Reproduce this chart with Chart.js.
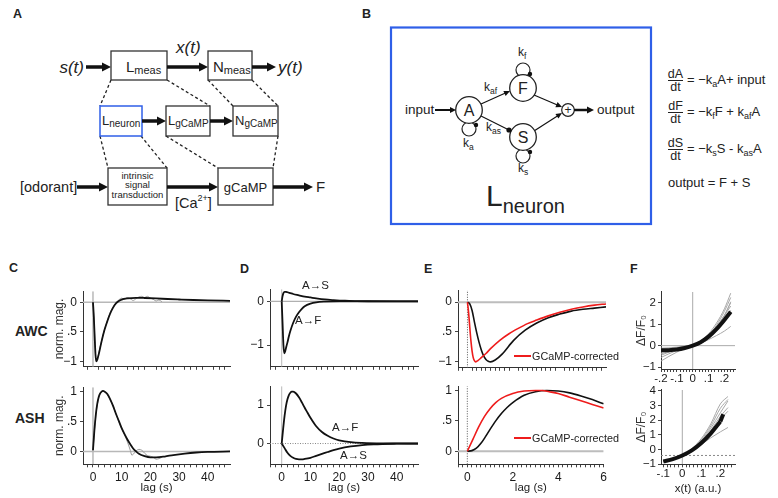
<!DOCTYPE html>
<html><head><meta charset="utf-8">
<script src="https://cdn.jsdelivr.net/npm/chart.js@4.4.1/dist/chart.umd.min.js"></script>
<style>
html,body{margin:0;padding:0;background:#fff;}
#page{position:relative;width:778px;height:498px;overflow:hidden;font-family:'Liberation Sans',Arial,Helvetica,sans-serif;color:#222;}
#page canvas{position:absolute;}
.t{position:absolute;white-space:nowrap;line-height:1;}
</style></head>
<body><div id="page">
<svg id="diag" width="778" height="498" style="position:absolute;left:0;top:0"></svg>
</div>
<script>
// ---------------- DATA ----------------
// Panel C: measured linear filters (lag in s, normalized magnitude)
const cAwcFitLag = [0, 0.3, 0.6, 0.9, 1.15, 1.5, 2, 2.5, 3, 4, 5, 6, 7, 8, 9, 10, 12, 15, 18, 22, 26, 30, 35, 40, 48];
const cAwcFitMag = [0, -0.25, -0.6, -0.9, -1.0, -0.97, -0.88, -0.77, -0.66, -0.47, -0.32, -0.19, -0.09, -0.02, 0.02, 0.045, 0.065, 0.075, 0.072, 0.065, 0.055, 0.047, 0.038, 0.032, 0.025];
const cAwcDataLag = [0, 0.5, 1, 1.5, 2, 3, 4, 5, 6, 7, 8, 9, 10, 11, 12, 13, 14, 15, 16, 17, 18, 19, 20, 21, 22, 23, 24];
const cAwcDataMag = [0, -0.45, -0.97, -0.95, -0.86, -0.65, -0.46, -0.31, -0.17, -0.08, -0.01, 0.04, 0.07, 0.05, 0.08, 0.06, 0.03, 0.06, 0.09, 0.1, 0.08, 0.1, 0.07, 0.05, 0.02, 0.04, 0.01];
const cAshFitLag = [0, 0.5, 1, 1.5, 2, 2.5, 3, 3.5, 4, 5, 6, 7, 8, 9, 10, 11, 12, 13, 14, 15, 16, 18, 20, 22, 25, 28, 32, 36, 40, 48];
const cAshFitMag = [0.02, 0.36, 0.62, 0.8, 0.91, 0.97, 1.0, 1.01, 1.0, 0.96, 0.87, 0.76, 0.63, 0.51, 0.39, 0.29, 0.2, 0.12, 0.05, 0.0, -0.04, -0.08, -0.1, -0.1, -0.085, -0.06, -0.035, -0.018, -0.008, 0];
const cAshDataLag = [0, 1, 2, 3, 4, 5, 6, 7, 8, 9, 10, 11, 12, 13, 13.5, 14, 15, 16, 17, 18, 19, 20, 21, 22, 23, 24];
const cAshDataMag = [0.02, 0.6, 0.9, 1.0, 1.0, 0.95, 0.87, 0.76, 0.63, 0.5, 0.38, 0.28, 0.16, 0.02, -0.06, -0.05, 0.01, 0.035, 0.02, -0.03, -0.07, -0.08, -0.1, -0.13, -0.12, -0.1];
// Panel D: model components
const dAwcAFLag = [0, 0.3, 0.6, 0.9, 1.2, 1.6, 2, 2.5, 3, 4, 5, 6, 7, 8, 10, 12, 15, 20, 30, 48];
const dAwcAFVal = [0, -0.5, -1.0, -1.19, -1.15, -1.04, -0.94, -0.8, -0.68, -0.49, -0.35, -0.25, -0.17, -0.11, -0.05, -0.02, -0.005, 0, 0, 0];
const dAwcASLag = [0, 0.3, 0.6, 1, 1.5, 2, 3, 4, 6, 8, 10, 12, 15, 18, 22, 26, 30, 40, 48];
const dAwcASVal = [0, 0.12, 0.19, 0.22, 0.22, 0.21, 0.19, 0.17, 0.14, 0.11, 0.09, 0.07, 0.045, 0.03, 0.015, 0.008, 0.004, 0, 0];
const dAshAFLag = [0, 0.5, 1, 1.5, 2, 2.5, 3, 3.5, 4, 5, 6, 7, 8, 9, 10, 12, 14, 16, 18, 20, 24, 28, 35, 48];
const dAshAFVal = [0, 0.38, 0.72, 0.98, 1.15, 1.26, 1.32, 1.35, 1.35, 1.3, 1.2, 1.07, 0.93, 0.8, 0.67, 0.45, 0.3, 0.2, 0.13, 0.085, 0.035, 0.015, 0.003, 0];
const dAshASLag = [0, 1, 2, 3, 4, 5, 6, 7, 8, 10, 12, 14, 16, 18, 20, 24, 28, 32, 40, 48];
const dAshASVal = [0, -0.12, -0.24, -0.32, -0.37, -0.4, -0.41, -0.41, -0.4, -0.37, -0.32, -0.27, -0.22, -0.17, -0.13, -0.075, -0.04, -0.02, -0.005, 0];
// Panel E: filters vs GCaMP-corrected
const eAwcLag = [0, 0.1, 0.2, 0.3, 0.4, 0.5, 0.6, 0.7, 0.8, 0.9, 1.0, 1.2, 1.5, 2.0, 2.5, 3.0, 3.5, 4.0, 4.5, 5.0, 5.5, 6.0];
const eAwcVal = [0, -0.03, -0.14, -0.33, -0.51, -0.67, -0.8, -0.9, -0.96, -0.99, -1.0, -0.97, -0.87, -0.64, -0.47, -0.35, -0.26, -0.2, -0.15, -0.12, -0.1, -0.08];
const eAwcCorrLag = [0, 0.05, 0.1, 0.15, 0.2, 0.25, 0.3, 0.36, 0.45, 0.6, 0.8, 1.0, 1.4, 1.8, 2.2, 2.6, 3.0, 3.5, 4.0, 4.5, 5.0, 5.5, 6.0];
const eAwcCorrVal = [0, -0.18, -0.42, -0.65, -0.82, -0.93, -0.98, -1.0, -0.98, -0.93, -0.86, -0.78, -0.64, -0.53, -0.44, -0.36, -0.3, -0.23, -0.17, -0.12, -0.08, -0.05, -0.03];
const eAshLag = [0, 0.2, 0.4, 0.6, 0.8, 1.0, 1.25, 1.5, 1.75, 2.0, 2.5, 3.0, 3.5, 4.0, 4.5, 5.0, 5.5, 6.0];
const eAshVal = [0, 0.01, 0.05, 0.13, 0.24, 0.36, 0.5, 0.62, 0.72, 0.8, 0.92, 0.98, 1.0, 0.99, 0.96, 0.91, 0.85, 0.78];
const eAshCorrLag = [0, 0.25, 0.5, 0.75, 1.0, 1.25, 1.5, 2.0, 2.5, 3.0, 3.3, 3.6, 4.0, 4.5, 5.0, 5.5, 6.0];
const eAshCorrVal = [0, 0.2, 0.4, 0.57, 0.7, 0.8, 0.87, 0.95, 0.99, 1.0, 1.0, 0.98, 0.95, 0.89, 0.83, 0.77, 0.71];
// Panel F: static nonlinearities (x(t) vs dF/F0)
const fTopX = [-0.2, -0.15, -0.1, -0.05, 0, 0.05, 0.1, 0.15, 0.2, 0.24];
const fTopMean = [-0.22, -0.21, -0.18, -0.11, 0, 0.16, 0.42, 0.77, 1.2, 1.58];
const fTopTrials = [
  [-0.72, -0.5, -0.3, -0.12, 0, 0.12, 0.28, 0.47, 0.68, 0.9],
  [-0.55, -0.38, -0.22, -0.09, 0, 0.15, 0.42, 0.85, 1.42, 2.0],
  [-0.45, -0.3, -0.18, -0.07, 0, 0.2, 0.55, 1.05, 1.72, 2.45],
  [-0.38, -0.28, -0.17, -0.07, 0, 0.17, 0.48, 0.95, 1.6, 2.25],
  [-0.28, -0.22, -0.14, -0.06, 0, 0.14, 0.38, 0.72, 1.15, 1.55],
  [-0.18, -0.15, -0.1, -0.04, 0, 0.12, 0.34, 0.68, 1.13, 1.65],
  [-0.12, -0.1, -0.07, -0.03, 0, 0.18, 0.5, 0.9, 1.4, 1.85],
  [-0.3, -0.25, -0.16, -0.07, 0, 0.16, 0.45, 0.87, 1.4, 2.05]
];
const fBotX = [-0.1, -0.05, 0, 0.05, 0.1, 0.15, 0.2, 0.24];
const fBotMean = [-0.8, -0.65, -0.4, -0.05, 0.45, 1.1, 1.9, null];
const fBotMeanEndX = [0.2, 0.215];
const fBotMeanEndY = [1.9, 2.4];
const fBotTrials = [
  [-0.78, -0.62, -0.4, 0.05, 0.75, 1.75, 3.1, 3.6],
  [-0.8, -0.63, -0.4, 0.0, 0.6, 1.45, 2.5, 3.3],
  [-0.75, -0.6, -0.4, -0.08, 0.35, 0.8, 1.2, 1.5],
  [-0.82, -0.65, -0.4, 0.02, 0.68, 1.6, 2.8, 3.4],
  [-0.76, -0.62, -0.4, -0.04, 0.5, 1.2, 2.05, 2.6],
  [-0.8, -0.64, -0.4, 0.0, 0.55, 1.3, 2.25, 2.85]
];
const fBotBaseline = -0.4;
// Axis limits and tick labels
const cdXLabVals = [0, 10, 20, 30, 40];
const cdXLabTxt = ['0', '10', '20', '30', '40'];
const eXLabVals = [0, 2, 4, 6];
const eXLabTxt = ['0', '2', '4', '6'];
const fTopXLabVals = [-0.2, -0.1, 0, 0.1, 0.2];
const fTopXLabTxt = ['-.2', '-.1', '0', '.1', '.2'];
const fBotXLabVals = [-0.1, 0, 0.1, 0.2];
const fBotXLabTxt = ['-.1', '0', '.1', '.2'];
const awcYVals = [0, -0.5, -1];
const awcYTxt = ['0', '.5', '\u22121'];
const ashYVals = [1, 0.5, 0];
const ashYTxt = ['1', '.5', '0'];
const dTopYVals = [0, -1];
const dTopYTxt = ['0', '\u22121'];
const dBotYVals = [1, 0];
const dBotYTxt = ['1', '0'];
const fTopYVals = [2, 1, 0, -1];
const fTopYTxt = ['2', '1', '0', '\u22121'];
const fBotYVals = [4, 3, 2, 1, 0, -1];
const fBotYTxt = ['4', '3', '2', '1', '0', '\u22121'];

const FONT = "'Liberation Sans', Arial, Helvetica, sans-serif";
Chart.defaults.font.family = FONT;
Chart.defaults.color = '#222';

// ---------------- DIAGRAMS (A, B) ----------------
const NS = 'http://www.w3.org/2000/svg';
const svg = document.getElementById('diag');
function S(tag, a, txt) {
  const e = document.createElementNS(NS, tag);
  for (const k in a) e.setAttribute(k, a[k]);
  if (txt !== undefined) e.textContent = txt;
  svg.appendChild(e); return e;
}
function T(x, y, parts, extra) {
  const e = S('text', Object.assign({x: x, y: y, 'font-family': FONT, fill: '#222'}, extra || {}));
  parts.forEach(p => {
    const ts = document.createElementNS(NS, 'tspan');
    ts.setAttribute('font-size', p[1]);
    if (p[2]) ts.setAttribute('dy', p[2]);
    if (p[3]) ts.setAttribute('font-style', p[3]);
    ts.textContent = p[0]; e.appendChild(ts);
  });
  return e;
}
function arrow(x1, y1, x2, y2, w, hl, hw) {
  const dx = x2 - x1, dy = y2 - y1, L = Math.hypot(dx, dy), ux = dx / L, uy = dy / L;
  const bx = x2 - ux * hl, by = y2 - uy * hl;
  S('line', {x1: x1, y1: y1, x2: bx + ux, y2: by + uy, stroke: '#111', 'stroke-width': w});
  S('polygon', {points: `${x2},${y2} ${bx - uy * hw},${by + ux * hw} ${bx + uy * hw},${by - ux * hw}`, fill: '#111'});
}
function box(x, y, w, h, col, sw) {
  S('rect', {x: x, y: y, width: w, height: h, fill: '#fff', stroke: col || '#333', 'stroke-width': sw || 1.3});
}
function dash(x1, y1, x2, y2) {
  S('line', {x1: x1, y1: y1, x2: x2, y2: y2, stroke: '#222', 'stroke-width': 1.3, 'stroke-dasharray': '3,2.5'});
}
// Panel A
dash(111, 80, 100, 106); dash(167, 80, 210, 106); dash(208, 80, 233, 106); dash(252, 80, 278, 106);
dash(100, 136, 108, 168); dash(141, 136, 167, 168); dash(166, 136, 218, 168); dash(278, 136, 273, 168);
T(84, 73, [['s(t)', 17, 0, 'italic']], {'text-anchor': 'end'});
arrow(86, 67, 111, 67, 3.5, 9, 4.5);
box(111, 51, 56, 29);
T(126, 72, [['L', 15], ['meas', 11, 2]]);
T(176, 53, [['x(t)', 17, 0, 'italic']]);
arrow(167, 67, 208, 67, 3.5, 9, 4.5);
box(208, 51, 44, 29);
T(213, 72, [['N', 15], ['meas', 11, 2]]);
arrow(252, 67, 276, 67, 3.5, 9, 4.5);
T(278, 73, [['y(t)', 17, 0, 'italic']]);
box(100, 106, 42, 30, '#2f5fe8', 1.5);
T(102, 125, [['L', 13], ['neuron', 10, 2]]);
arrow(142, 121, 166, 121, 3.5, 9, 4.5);
box(166, 106, 44, 30);
T(168, 125, [['L', 13], ['gCaMP', 10, 2]]);
arrow(210, 121, 233, 121, 3.5, 9, 4.5);
box(233, 106, 45, 30);
T(235, 125, [['N', 13], ['gCaMP', 10, 2]]);
T(20, 192, [['[odorant]', 14.5]]);
arrow(77, 187, 108, 187, 3.5, 9, 4.5);
box(108, 168, 59, 37);
T(137.5, 179, [['intrinsic', 9.5]], {'text-anchor': 'middle'});
T(137.5, 188, [['signal', 9.5]], {'text-anchor': 'middle'});
T(137.5, 198, [['transduction', 9.5]], {'text-anchor': 'middle'});
arrow(167, 187, 218, 187, 3.5, 9, 4.5);
T(175, 208, [['[Ca', 14.5], ['2+', 9, -7], [']', 14.5, 7]]);
box(218, 168, 55, 37);
T(245.5, 192, [['gCaMP', 13]], {'text-anchor': 'middle'});
arrow(273, 187, 313, 187, 3.5, 9, 4.5);
T(316, 192, [['F', 15]]);
// Panel B
S('rect', {x: 391, y: 27.5, width: 260, height: 196.5, fill: 'none', stroke: '#2f5fe8', 'stroke-width': 2.2});
T(405, 114, [['input', 13.5]]);
arrow(435, 110, 456, 110, 2, 6, 3);
S('circle', {cx: 523, cy: 70, r: 7, fill: 'none', stroke: '#222', 'stroke-width': 1.2});
S('circle', {cx: 469, cy: 129, r: 7, fill: 'none', stroke: '#222', 'stroke-width': 1.2});
S('circle', {cx: 523, cy: 156, r: 7, fill: 'none', stroke: '#222', 'stroke-width': 1.2});
arrow(481, 104, 510, 91, 1.2, 6, 2.8);
S('line', {x1: 481, y1: 116, x2: 509, y2: 130, stroke: '#111', 'stroke-width': 1.2});
arrow(534, 95, 562, 107, 1.2, 6, 2.8);
arrow(534, 131, 562, 113, 1.2, 6, 2.8);
[[469, 110, 'A'], [523, 88, 'F'], [523, 137, 'S']].forEach(n => {
  S('circle', {cx: n[0], cy: n[1], r: 13.3, fill: '#fff', stroke: '#222', 'stroke-width': 1.3});
  T(n[0], n[1] + 5.5, [[n[2], 16]], {'text-anchor': 'middle'});
});
S('circle', {cx: 509, cy: 130, r: 2.6, fill: '#111'});
S('circle', {cx: 530, cy: 74, r: 2.2, fill: '#111'});
S('circle', {cx: 476, cy: 125, r: 2.2, fill: '#111'});
S('circle', {cx: 530, cy: 152, r: 2.2, fill: '#111'});
S('circle', {cx: 568, cy: 110, r: 6.3, fill: '#fff', stroke: '#222', 'stroke-width': 1.2});
T(568, 114, [['+', 12]], {'text-anchor': 'middle'});
arrow(574, 110, 594, 110, 2.5, 7, 3.5);
T(597, 114, [['output', 13.5]]);
T(518, 56, [['k', 12], ['f', 8.5, 3]]);
T(463, 147, [['k', 12], ['a', 8.5, 3]]);
T(518, 172, [['k', 12], ['s', 8.5, 3]]);
T(484, 91, [['k', 12], ['af', 8.5, 3]]);
T(486, 131, [['k', 12], ['as', 8.5, 3]]);
T(486, 206, [['L', 30], ['neuron', 20, 7]]);
function frac(num, y) {
  T(675.5, y - 2.5, [[num, 12.5]], {'text-anchor': 'middle'});
  S('line', {x1: 668, y1: y, x2: 683, y2: y, stroke: '#222', 'stroke-width': 1});
  T(675.5, y + 10.5, [['dt', 12.5]], {'text-anchor': 'middle'});
}
frac('dA', 80.5);
T(687, 84, [['= \u2212k', 13], ['a', 9, 3], ['A+ input', 13, -3]]);
frac('dF', 112.5);
T(687, 116, [['= \u2212k', 13], ['f', 9, 3], ['F + k', 13, -3], ['af', 9, 3], ['A', 13, -3]]);
frac('dS', 149.5);
T(687, 153, [['= \u2212k', 13], ['s', 9, 3], ['S  - k', 13, -3], ['as', 9, 3], ['A', 13, -3]]);
T(668, 187, [['output = F + S', 13]]);

// ---------------- CHARTS (C-F) ----------------
const page = document.getElementById('page');
function pts(xs, ys) { return xs.map((x, i) => ({x: x, y: ys[i]})); }
function curve(xs, ys, color, width, extra) {
  return Object.assign({data: pts(xs, ys), borderColor: color, borderWidth: width, pointRadius: 0,
    fill: false, cubicInterpolationMode: 'monotone', spanGaps: false}, extra || {});
}
function refLine(xs, ys, color, width, dashArr) {
  return {data: pts(xs, ys), borderColor: color, borderWidth: width, pointRadius: 0, fill: false,
    tension: 0, borderDash: dashArr || [], order: 10};
}
function lab(v, vals, txt) {
  const i = vals.findIndex(t => Math.abs(t - v) < 1e-6);
  return i < 0 ? '' : txt[i];
}
function panel(sp) {
  const padTop = 6, padRight = 4;
  const [l, t, r, b] = sp.area;
  const W = sp.yW + (r - l) + padRight, H = padTop + (b - t) + sp.xH;
  const cv = document.createElement('canvas');
  cv.width = Math.round(W); cv.height = Math.round(H);
  cv.style.left = (l - sp.yW) + 'px'; cv.style.top = (t - padTop) + 'px';
  cv.style.width = Math.round(W) + 'px'; cv.style.height = Math.round(H) + 'px';
  page.appendChild(cv);
  const minor = [];
  const k0 = Math.ceil(sp.xLim[0] / sp.xStep - 1e-9), k1 = Math.floor(sp.xLim[1] / sp.xStep + 1e-9);
  for (let k = k0; k <= k1; k++) minor.push(+(k * sp.xStep).toFixed(6));
  const fs = sp.tickSize || 12;
  new Chart(cv, {
    type: 'line',
    data: {datasets: sp.series},
    options: {
      responsive: false, animation: false, devicePixelRatio: 1,
      layout: {padding: {top: padTop, right: padRight, left: 0, bottom: 0}, autoPadding: false},
      plugins: {legend: {display: false}, tooltip: {enabled: false}},
      scales: {
        x: {
          type: 'linear', min: sp.xLim[0], max: sp.xLim[1], bounds: 'data',
          afterFit: s => { s.height = sp.xH; },
          afterBuildTicks: s => { s.ticks = minor.map(v => ({value: v})); },
          ticks: {autoSkip: false, maxRotation: 0, minRotation: 0, padding: sp.xPad === undefined ? 3 : sp.xPad,
            color: '#1a1a1a', font: {size: fs}, callback: v => lab(v, sp.xLabVals, sp.xLabTxt)},
          grid: {drawOnChartArea: false, drawTicks: true, tickLength: 3, tickColor: '#444', tickWidth: 1},
          border: {display: true, color: '#333', width: 1},
          title: sp.xTitle ? {display: true, text: sp.xTitle, font: {size: 11.5}, color: '#222',
            padding: {top: 0, bottom: sp.xTitlePad}} : {display: false}
        },
        y: {
          type: 'linear', min: sp.yLim[0], max: sp.yLim[1], bounds: 'data',
          afterFit: s => { s.width = sp.yW; },
          afterBuildTicks: s => { s.ticks = sp.yVals.map(v => ({value: v})); },
          ticks: {autoSkip: false, padding: sp.yPad || 3, color: '#1a1a1a', font: {size: fs},
            callback: v => lab(v, sp.yVals, sp.yTxt)},
          grid: {drawOnChartArea: false, drawTicks: true, tickLength: 3, tickColor: '#444', tickWidth: 1},
          border: {display: true, color: '#333', width: 1},
          title: sp.yTitle ? {display: true, text: sp.yTitle, font: {size: 12}, color: '#333',
            padding: {top: sp.yTitlePad || 0, bottom: 0}} : {display: false}
        }
      }
    }
  });
}
function zeroLines(xLim, yLim, hCol, hW, hDash, vCol, vW, vDash) {
  return [refLine(xLim, [0, 0], hCol, hW, hDash), refLine([0, 0], yLim, vCol, vW, vDash)];
}

const cXLim = [-3.48, 47.76];
const cAwcYLim = [-1.09, 0.187];
const cAshYLim = [-0.215, 1.073];
const dXLim = [-4.07, 47.4];
const dAwcYLim = [-1.5, 0.28];
const dAshYLim = [-0.54, 1.49];
const eXLim = [-0.41, 6.0];
const eAwcYLim = [-1.1, 0.2];
const eAshYLim = [-0.215, 1.07];
const fTopXLim = [-0.2, 0.267];
const fTopYLim = [-1.09, 2.51];
const fBotXLim = [-0.112, 0.277];
const fBotYLim = [-1.0, 4.05];

// C
panel({area: [82.7, 287, 230, 369], xLim: cXLim, yLim: cAwcYLim, xStep: 2, xLabVals: cdXLabVals, xLabTxt: [],
  yVals: awcYVals, yTxt: awcYTxt, yW: 31, xH: 8, yTitle: 'norm. mag.',
  series: [curve(cAwcFitLag, cAwcFitMag, '#111', 1.8), curve(cAwcDataLag, cAwcDataMag, '#9a9a9a', 1, {cubicInterpolationMode: 'default', tension: 0.3})]
    .concat(zeroLines(cXLim, cAwcYLim, '#b8b8b8', 1.5, [], '#b8b8b8', 1.5, []))});
panel({area: [82.7, 382.7, 230, 464.3], xLim: cXLim, yLim: cAshYLim, xStep: 2, xLabVals: cdXLabVals, xLabTxt: cdXLabTxt,
  yVals: ashYVals, yTxt: ashYTxt, yW: 31, xH: 33.7, xTitle: 'lag (s)', xTitlePad: 3, yTitle: 'norm. mag.',
  series: [curve(cAshFitLag, cAshFitMag, '#111', 1.8), curve(cAshDataLag, cAshDataMag, '#9a9a9a', 1, {cubicInterpolationMode: 'default', tension: 0.3})]
    .concat(zeroLines(cXLim, cAshYLim, '#b8b8b8', 1.5, [], '#b8b8b8', 1.5, []))});
// D
panel({area: [270, 285, 418, 369.3], xLim: dXLim, yLim: dAwcYLim, xStep: 2, xLabVals: cdXLabVals, xLabTxt: [],
  yVals: dTopYVals, yTxt: dTopYTxt, yW: 24, xH: 8,
  series: [curve(dAwcAFLag, dAwcAFVal, '#111', 1.8), curve(dAwcASLag, dAwcASVal, '#111', 1.8)]
    .concat(zeroLines(dXLim, dAwcYLim, '#b0b0b0', 1.2, [], '#b8b8b8', 1, []))});
panel({area: [270, 381.7, 418, 464.3], xLim: dXLim, yLim: dAshYLim, xStep: 2, xLabVals: cdXLabVals, xLabTxt: cdXLabTxt,
  yVals: dBotYVals, yTxt: dBotYTxt, yW: 24, xH: 33.7, xTitle: 'lag (s)', xTitlePad: 3,
  series: [curve(dAshAFLag, dAshAFVal, '#111', 1.8), curve(dAshASLag, dAshASVal, '#111', 1.8)]
    .concat(zeroLines(dXLim, dAshYLim, '#888', 1, [1, 1.5], '#b8b8b8', 1, []))});
// E
panel({area: [458.3, 286, 606.7, 370], xLim: eXLim, yLim: eAwcYLim, xStep: 0.2, xLabVals: eXLabVals, xLabTxt: [],
  yVals: awcYVals, yTxt: awcYTxt, yW: 24, xH: 8,
  series: [curve(eAwcCorrLag, eAwcCorrVal, '#ee1c1c', 1.6), curve(eAwcLag, eAwcVal, '#111', 1.6)]
    .concat(zeroLines(eXLim, eAwcYLim, '#bdbdbd', 2, [], '#555', 1, [1, 1.5]))});
panel({area: [458.3, 381.7, 606.7, 464.3], xLim: eXLim, yLim: eAshYLim, xStep: 0.2, xLabVals: eXLabVals, xLabTxt: eXLabTxt,
  yVals: ashYVals, yTxt: ashYTxt, yW: 24, xH: 33.7, xTitle: 'lag (s)', xTitlePad: 3,
  series: [curve(eAshCorrLag, eAshCorrVal, '#ee1c1c', 1.6), curve(eAshLag, eAshVal, '#111', 1.6)]
    .concat(zeroLines(eXLim, eAshYLim, '#bdbdbd', 2, [], '#555', 1, [1, 1.5]))});
// F
panel({area: [661, 289.3, 735, 369.3], xLim: fTopXLim, yLim: fTopYLim, xStep: 0.02, xLabVals: fTopXLabVals, xLabTxt: fTopXLabTxt,
  yVals: fTopYVals, yTxt: fTopYTxt, yW: 30, yPad: 2, xH: 20, xPad: 0, tickSize: 11.5, yTitle: '\u0394F/F\u2080', yTitlePad: 3,
  series: [curve(fTopX, fTopMean, '#111', 4)]
    .concat(fTopTrials.map(tr => curve(fTopX, tr, '#a8a8a8', 1)))
    .concat(zeroLines(fTopXLim, fTopYLim, '#aaa', 1, [], '#aaa', 1, []))});
panel({area: [661, 387, 735, 464.3], xLim: fBotXLim, yLim: fBotYLim, xStep: 0.02, xLabVals: fBotXLabVals, xLabTxt: fBotXLabTxt,
  yVals: fBotYVals, yTxt: fBotYTxt, yW: 30, yPad: 2, xH: 33.7, xPad: 0, tickSize: 11.5, xTitle: 'x(t) (a.u.)', xTitlePad: 2.5, yTitle: '\u0394F/F\u2080', yTitlePad: 3,
  series: [curve(fBotX, fBotMean, '#111', 4), curve(fBotMeanEndX, fBotMeanEndY, '#111', 4, {cubicInterpolationMode: 'default', tension: 0})]
    .concat(fBotTrials.map(tr => curve(fBotX, tr, '#a8a8a8', 1)))
    .concat([refLine(fBotXLim, [fBotBaseline, fBotBaseline], '#888', 1, [2, 2]), refLine([0, 0], fBotYLim, '#aaa', 1, [])])});

// ---------------- TEXT LABELS ----------------
function txt(s, x, y, css) {
  const d = document.createElement('div');
  d.className = 't'; d.textContent = s;
  d.style.left = x + 'px'; d.style.top = y + 'px';
  d.style.transform = 'translate(0,-50%)';
  Object.assign(d.style, css || {});
  page.appendChild(d); return d;
}
const B = {fontWeight: 'bold', fontSize: '12.5px'};
txt('A', 13, 14, B); txt('B', 362, 14, B); txt('C', 9, 268, B);
txt('D', 240, 269, B); txt('E', 424, 269, B); txt('F', 630, 269, B);
txt('AWC', 15, 331, {fontWeight: 'bold', fontSize: '14px'});
txt('ASH', 15, 418, {fontWeight: 'bold', fontSize: '14px'});
txt('A\u2192S', 302, 286, {fontSize: '11.5px'});
txt('A\u2192F', 295, 321, {fontSize: '11.5px'});
txt('A\u2192F', 332, 428, {fontSize: '11.5px'});
txt('A\u2192S', 340, 456, {fontSize: '11.5px'});
function legend(y) {
  const ln = document.createElement('div');
  ln.style.cssText = `position:absolute;left:514px;top:${y - 1}px;width:17px;height:2px;background:#ee1c1c;`;
  page.appendChild(ln);
  txt('GCaMP-corrected', 532, y, {fontSize: '10.8px'});
}
legend(356); legend(438);
</script>
</body></html>
